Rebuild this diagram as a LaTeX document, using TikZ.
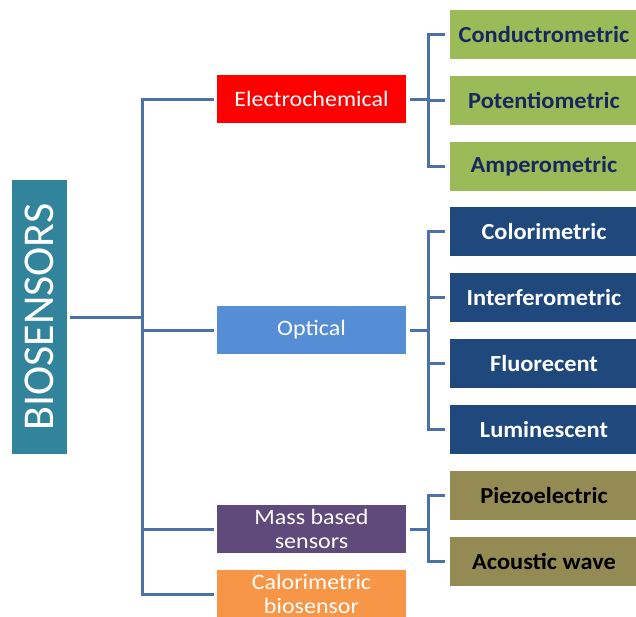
\documentclass[tikz,border=0pt]{standalone}
\usepackage{fontspec}
\setmainfont{Carlito}
\newfontfamily\catfont[FakeStretch=1.09]{Carlito}
\newfontfamily\subfont[FakeStretch=1.06]{Carlito}
\usetikzlibrary{calc}
\definecolor{rootteal}{HTML}{31849B}
\definecolor{linkblue}{HTML}{4A72A8}
\definecolor{elecred}{HTML}{FF0000}
\definecolor{optblue}{HTML}{558ED5}
\definecolor{massviolet}{HTML}{604A7B}
\definecolor{caloorange}{HTML}{F79646}
\definecolor{elecgreen}{HTML}{9BBB59}
\definecolor{optnavy}{HTML}{1F497D}
\definecolor{massolive}{HTML}{948A54}
\definecolor{darknavy}{HTML}{17285E}

\begin{document}
\begin{tikzpicture}[x=1pt,y=-1pt,
	link/.style={line width=3pt,linkblue},
	catbox/.style={rectangle,minimum width=189pt,minimum height=48pt,inner sep=0pt,
		text=white,align=center,font=\catfont\fontsize{22}{24}\selectfont},
	subbox/.style={rectangle,minimum width=188pt,minimum height=49pt,inner sep=0pt,
		font=\subfont\bfseries\fontsize{23}{24}\selectfont}]
	\useasboundingbox (0,0) rectangle (636,616);
	\clip (0,0) rectangle (636,616);
	% root
	\node[fill=rootteal,rotate=90,minimum width=274pt,minimum height=55pt,inner sep=0pt,
		text=white,font=\fontsize{44}{44}\selectfont] (root) at (39.5,317) {BIOSENSORS};
	\coordinate (spine) at (142,317);
	% categories
	\node[catbox,fill=elecred] (elec) at (311.5,99) {Electrochemical};
	\node[catbox,fill=optblue] (opt) at (311.5,330) {Optical};
	\node[catbox,fill=massviolet] (mass) at (311.5,529) {Mass based\\sensors};
	\node[catbox,fill=caloorange] (calo) at (311.5,594) {Calorimetric\\biosensor};
	% sub types
	\node[subbox,fill=elecgreen,text=darknavy] (cond) at (544,34.5) {Conductrometric};
	\node[subbox,fill=elecgreen,text=darknavy] (pot) at (544,100.5) {Potentiometric};
	\node[subbox,fill=elecgreen,text=darknavy] (amp) at (544,166.5) {Amperometric};
	\node[subbox,fill=optnavy,text=white] (color) at (544,231.5) {Colorimetric};
	\node[subbox,fill=optnavy,text=white] (inter) at (544,297.5) {Interferometric};
	\node[subbox,fill=optnavy,text=white] (fluo) at (544,363.5) {Fluorecent};
	\node[subbox,fill=optnavy,text=white] (lumi) at (544,429.5) {Luminescent};
	\node[subbox,fill=massolive,text=black] (piezo) at (544,495.5) {Piezoelectric};
	\node[subbox,fill=massolive,text=black] (acou) at (544,561.5) {Acoustic wave};
	% connectors
	\draw[link,shorten <=3pt] (root.south) -- (spine);
	\foreach \c in {elec,opt,mass,calo}{
		\draw[link,shorten <=3pt] (\c.west) -| (spine);
	}
	\foreach \c/\kids in {elec/{cond,pot,amp},opt/{color,inter,fluo,lumi},mass/{piezo,acou}}{
		\coordinate (\c-j) at ($(\c.east)+(22,0)$);
		\draw[link,shorten <=4pt] (\c.east) -- (\c-j);
		\foreach \k in \kids{
			\draw[link,shorten >=5pt] (\c-j) |- (\k.west);
		}
	}
\end{tikzpicture}
\end{document}
